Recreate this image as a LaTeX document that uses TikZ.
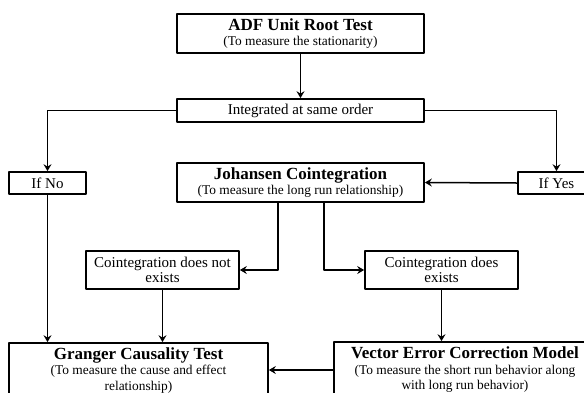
\documentclass[tikz,border=0pt]{standalone}
\usepackage{fontspec}
\setmainfont{Liberation Serif}
\usetikzlibrary{arrows.meta}
\newcommand{\ttl}{\fontsize{17}{19}\selectfont\bfseries}
\newcommand{\sbt}{\fontsize{13.4}{15.5}\selectfont}

\begin{document}
\begin{tikzpicture}[line cap=round,line join=round,>={Stealth[length=7pt,width=8pt,inset=2.5pt]},x=1pt,y=-1pt,
                    box/.style={draw, line width=1.7pt, inner sep=0pt, align=center, font=\sbt},
                    lbl/.style={draw, line width=1.7pt, inner sep=0pt, align=center, font=\fontsize{15}{15}\selectfont},
                    con/.style={->, line width=1.5pt}]
                    \clip (0,0) rectangle (584,392);

                    \node[box, minimum width=247pt, minimum height=39pt] (1) at (300.5,33.5) {{\ttl ADF Unit Root Test}\\(To measure the stationarity)};
                    \node[lbl, minimum width=247pt, minimum height=23pt] (2) at (300.5,110.5) {Integrated at same order};

                    \node[lbl, minimum width=77pt, minimum height=22pt] (3) at (47.5,183) {If No};
                    \node[lbl, minimum width=77pt, minimum height=22pt] (4) at (556.5,183) {If Yes};
                    \node[box, minimum width=247pt, minimum height=39pt] (5) at (300.5,182.5) {{\ttl Johansen Cointegration}\\(To measure the long run relationship)};

                    \node[lbl, minimum width=153pt, minimum height=38pt] (6) at (162.5,270) {Cointegration does not\\exists};
                    \node[lbl, minimum width=153pt, minimum height=38pt] (7) at (441.5,270) {Cointegration does\\exists};

                    \node[box, minimum width=259pt, minimum height=55pt] (8) at (138.5,370.5) {{\ttl Granger Causality Test}\\(To measure the cause and effect\\relationship)};
                    \node[box, minimum width=262pt, minimum height=56pt] (9) at (465,370) {{\ttl Vector Error Correction Model}\\(To measure the short run behavior along\\with long run behavior)};

                    \draw [con] (1) -- (2);
                    \draw [con] (2.west) -| (3.north);
                    \draw [con] (2.east) -| (4.north);
                    \draw [con] (4.west) -- (5.east);
                    \draw [con] ([xshift=-22.5pt]5.south) |- (6.east);
                    \draw [con] ([xshift=23.5pt]5.south) |- (7.west);
                    \draw [con] (3.south) -- (3.south |- 8.north);
                    \draw [con] (6.south) -- (6.south |- 8.north);
                    \draw [con] (7.south) -- (7.south |- 9.north);
                    \draw [con] (9.west) -- (9.west -| 8.east);
                \end{tikzpicture}
\end{document}
